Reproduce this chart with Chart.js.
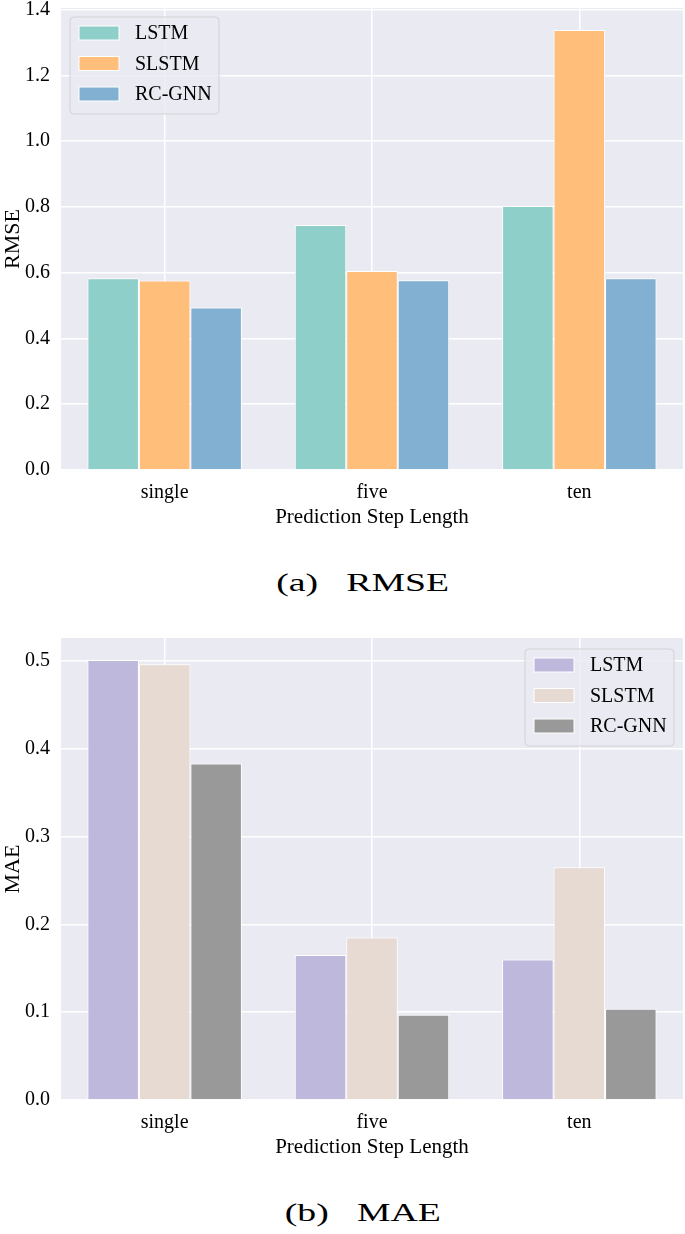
<!DOCTYPE html>
<html>
<head>
<meta charset="utf-8">
<script src="https://cdn.jsdelivr.net/npm/chart.js@4"></script>
<style>
    body { margin: 0; background: #fff; width: 685px; overflow: hidden; }
    .block { position: relative; width: 685px; height: 630px; }
    .box { position: relative; width: 685px; height: 540px; }
    .caption {
        height: 86px; line-height: 86px; text-align: center; padding-left: 40px;
        font-family: "Liberation Serif", serif; font-size: 26px; color: #000;
    }
    .caption span { display: inline-block; transform: scaleX(1.45); }
</style>
</head>
<body>
<div class="block">
    <div class="box"><canvas id="rmse"></canvas></div>
    <div class="caption"><span>(a)&nbsp;&nbsp;&nbsp;RMSE</span></div>
</div>
<div class="block">
    <div class="box"><canvas id="mae"></canvas></div>
    <div class="caption"><span>(b)&nbsp;&nbsp;&nbsp;MAE</span></div>
</div>
<script>
const steps = ['single', 'five', 'ten'];
const models = ['LSTM', 'SLSTM', 'RC-GNN'];

const rmseLstm = [0.583, 0.745, 0.803];
const rmseSlstm = [0.576, 0.605, 1.338];
const rmseRcgnn = [0.494, 0.577, 0.583];

const maeLstm = [0.501, 0.165, 0.160];
const maeSlstm = [0.496, 0.185, 0.265];
const maeRcgnn = [0.383, 0.097, 0.104];

const rmseColors = ['#8ECFC9', '#FFBE7A', '#82B0D2'];
const maeColors = ['#BEB8DC', '#E7DAD2', '#999999'];

const serif = '"Liberation Serif", "Times New Roman", serif';

// seaborn style grey plot area
const bgPlugin = {
    id: 'bg',
    beforeDraw(chart) {
        const a = chart.chartArea;
        const ctx = chart.ctx;
        ctx.save();
        ctx.fillStyle = '#EAEAF2';
        ctx.fillRect(a.left, a.top, a.right - a.left, a.bottom - a.top);
        ctx.restore();
    }
};

// matplotlib like legend box inside the axes
const boxLegend = {
    id: 'boxLegend',
    afterDatasetsDraw(chart, args, opts) {
        const a = chart.chartArea;
        const ctx = chart.ctx;
        const w = 149, h = 97;
        const x = opts.side === 'right' ? a.right - opts.dx - w : a.left + opts.dx;
        const y = a.top + opts.dy;
        ctx.save();
        ctx.beginPath();
        ctx.roundRect(x, y, w, h, 4);
        ctx.fillStyle = 'rgba(234,234,242,0.8)';
        ctx.fill();
        ctx.strokeStyle = 'rgba(204,204,204,0.8)';
        ctx.lineWidth = 1;
        ctx.stroke();
        ctx.font = '20px ' + serif;
        ctx.textBaseline = 'middle';
        chart.data.datasets.forEach((ds, i) => {
            const cy = y + 16 + i * 30.5;
            ctx.fillStyle = ds.backgroundColor;
            ctx.fillRect(x + 9, cy - 7, 40, 14);
            ctx.strokeStyle = '#fff';
            ctx.strokeRect(x + 9, cy - 7, 40, 14);
            ctx.fillStyle = '#000';
            ctx.fillText(ds.label, x + 65, cy + 1);
        });
        ctx.restore();
    }
};

function makeDatasets(values, colors) {
    return values.map((v, i) => ({
        label: models[i],
        data: v,
        backgroundColor: colors[i],
        borderColor: '#fff',
        borderWidth: 1,
        categoryPercentage: 0.745,
        barPercentage: 1.0
    }));
}

function printBarChart(id, yTitle, ds, yMax, legendOpts) {
    const ctx = document.getElementById(id);
    new Chart(ctx, {
        type: 'bar',
        data: { labels: steps, datasets: ds },
        options: {
            responsive: true,
            maintainAspectRatio: false,
            animation: false,
            layout: { padding: { left: 0, right: 2, top: 8, bottom: 0 } },
            plugins: {
                legend: { display: false },
                tooltip: { enabled: false },
                boxLegend: legendOpts
            },
            scales: {
                x: {
                    grid: { color: '#fff', lineWidth: 1.5, offset: false, drawTicks: false },
                    border: { display: false },
                    ticks: { color: '#000', font: { family: serif, size: 20 }, padding: 11 },
                    title: {
                        display: true, text: 'Prediction Step Length', color: '#000',
                        font: { family: serif, size: 21 }, padding: { top: 0, bottom: 10 }
                    },
                    afterFit(scale) { scale.height = 70; }
                },
                y: {
                    min: 0,
                    max: yMax,
                    grid: { color: '#fff', lineWidth: 1.5, drawTicks: false },
                    border: { display: false },
                    ticks: {
                        stepSize: yMax > 1 ? 0.2 : 0.1,
                        includeBounds: false,
                        color: '#000',
                        font: { family: serif, size: 20 },
                        padding: 11,
                        callback: v => v.toFixed(1)
                    },
                    title: {
                        display: true, text: yTitle, color: '#000',
                        font: { family: serif, size: 22 }, padding: 0
                    },
                    afterFit(scale) {
                        scale.width = 61;
                        scale.paddingTop = 0;
                        scale.paddingBottom = 0;
                    }
                }
            }
        },
        plugins: [bgPlugin, boxLegend]
    });
}

printBarChart('rmse', 'RMSE', makeDatasets([rmseLstm, rmseSlstm, rmseRcgnn], rmseColors),
    1.405, { side: 'left', dx: 9, dy: 9 });
printBarChart('mae', 'MAE', makeDatasets([maeLstm, maeSlstm, maeRcgnn], maeColors),
    0.526, { side: 'right', dx: 9, dy: 11 });
</script>
</body>
</html>
